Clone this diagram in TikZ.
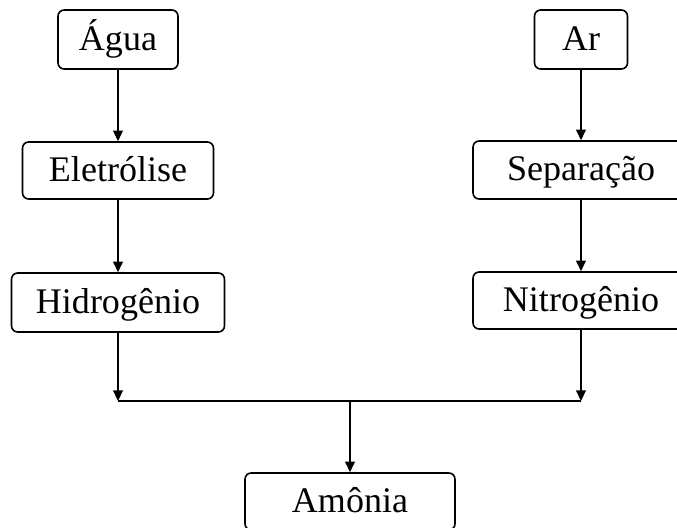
\documentclass[tikz,border=0pt]{standalone}
\usepackage{fontspec}
\setmainfont{Liberation Serif}
\usetikzlibrary{arrows.meta}

\tikzset{
	caixa/.style={draw, line width=0.9pt, rounded corners=3.5pt, inner sep=0pt,
		text height=0.5cm, text depth=0.08cm,
		font=\fontsize{20.5}{24}\selectfont},
	seta/.style={-{Triangle[length=6pt,width=5.5pt]}, line width=0.9pt},
	linha/.style={line width=0.9pt}
}

\begin{document}
\begin{tikzpicture}[x=0.02cm,y=-0.02cm]
	
	\useasboundingbox (0,0) rectangle (677,528);
	\clip (0,0) rectangle (677,528);
	
	\node[caixa, minimum width=2.4cm, minimum height=1.18cm] (agua) at (118,39.5) {Água};
	\node[caixa, minimum width=3.82cm, minimum height=1.14cm] (eletrolise) at (118,170.5) {Eletrólise};
	\node[caixa, minimum width=4.26cm, minimum height=1.18cm] (hidrogenio) at (118,302.5) {Hidrogênio};
	\node[caixa, minimum width=1.86cm, minimum height=1.18cm] (ar) at (581,39.5) {Ar};
	\node[caixa, minimum width=4.32cm, minimum height=1.16cm] (separacao) at (581,170) {Separação};
	\node[caixa, minimum width=4.32cm, minimum height=1.14cm] (nitrogenio) at (581,300.5) {Nitrogênio};
	\node[caixa, minimum width=4.2cm, minimum height=1.14cm] (amonia) at (350,501.5) {Amônia};
	
	\coordinate (hjunta) at (hidrogenio.south |- 0,401);
	\coordinate (njunta) at (nitrogenio.south |- 0,401);
	\coordinate (mjunta) at (amonia.north |- 0,401);
	
	\draw[seta] (agua) -- (eletrolise);
	\draw[seta] (eletrolise) -- (hidrogenio);
	\draw[seta] (ar) -- (separacao);
	\draw[seta] (separacao) -- (nitrogenio);
	\draw[seta] (hidrogenio) -- (hjunta);
	\draw[seta] (nitrogenio) -- (njunta);
	\draw[linha] (hjunta) -- (njunta);
	\draw[seta] (mjunta) -- (amonia);
	
\end{tikzpicture}
\end{document}
